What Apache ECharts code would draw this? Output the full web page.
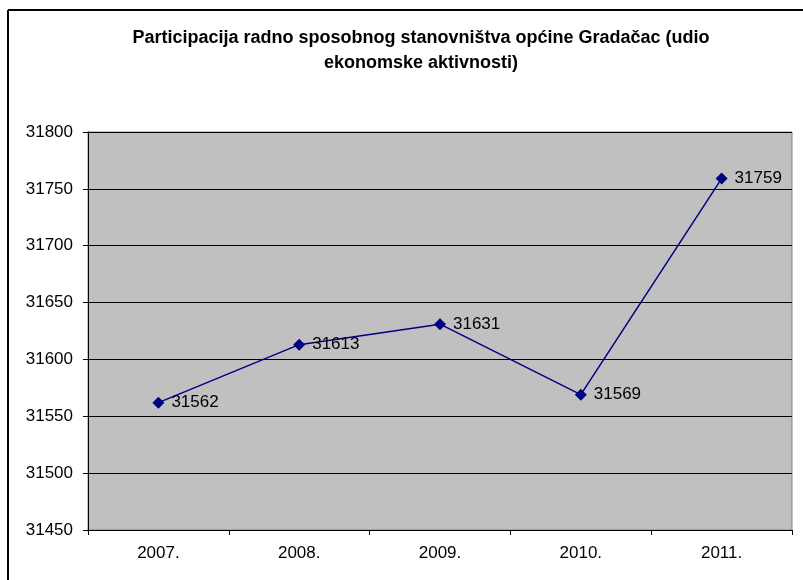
<!DOCTYPE html>
<html>
<head>
<meta charset="utf-8">
<script src="https://cdn.jsdelivr.net/npm/echarts@6/dist/echarts.min.js"></script>
<style>
  html, body { margin: 0; padding: 0; background: #fff; }
  #chart { width: 803px; height: 580px; }
</style>
</head>
<body>
<div id="chart"></div>
<script>
// Working-age population of Gradačac municipality, by year
const years = ['2007.', '2008.', '2009.', '2010.', '2011.'];
const population = [31562, 31613, 31631, 31569, 31759];
const yMin = 31450;
const yMax = 31800;
const yStep = 50;

const chart = echarts.init(document.getElementById('chart'));
const font = '"Liberation Sans", Arial, sans-serif';

chart.setOption({
  backgroundColor: '#ffffff',
  animation: false,
  title: {
    text: 'Participacija radno sposobnog stanovništva općine Gradačac (udio\nekonomske aktivnosti)',
    left: 416,
    top: 21,
    textAlign: 'center',
    textStyle: {
      fontFamily: font,
      fontSize: 18,
      fontWeight: 'bold',
      color: '#000',
      lineHeight: 25
    }
  },
  grid: {
    left: 88,
    top: 132,
    right: 11,
    bottom: 50,
    show: true,
    backgroundColor: '#c0c0c0',
    borderColor: '#808080',
    borderWidth: 1
  },
  xAxis: {
    type: 'category',
    data: years,
    boundaryGap: true,
    axisLine: { lineStyle: { color: '#000', width: 1 } },
    axisTick: { show: true, length: 5, lineStyle: { color: '#000' } },
    axisLabel: { fontFamily: font, fontSize: 17, color: '#000', margin: 15 },
    splitLine: { show: false }
  },
  yAxis: {
    type: 'value',
    min: yMin,
    max: yMax,
    interval: yStep,
    axisLine: { show: true, lineStyle: { color: '#000', width: 1 } },
    axisTick: { show: true, length: 5, lineStyle: { color: '#000' } },
    axisLabel: {
      fontFamily: font, fontSize: 17, color: '#000', margin: 15,
      formatter: (v) => String(v)
    },
    splitLine: { show: true, lineStyle: { color: '#000', width: 1 } }
  },
  series: [{
    type: 'line',
    data: population,
    symbol: 'diamond',
    symbolSize: 12,
    lineStyle: { color: '#000080', width: 1.5 },
    itemStyle: { color: '#000080' },
    label: {
      show: true,
      position: 'right',
      distance: 7,
      fontFamily: font,
      fontSize: 17,
      color: '#000'
    }
  }],
  graphic: [
    { type: 'line', shape: { x1: 8, y1: 10, x2: 803, y2: 10 }, style: { stroke: '#000', lineWidth: 2 } },
    { type: 'line', shape: { x1: 8, y1: 10, x2: 8, y2: 580 }, style: { stroke: '#000', lineWidth: 2 } }
  ]
});
</script>
</body>
</html>
